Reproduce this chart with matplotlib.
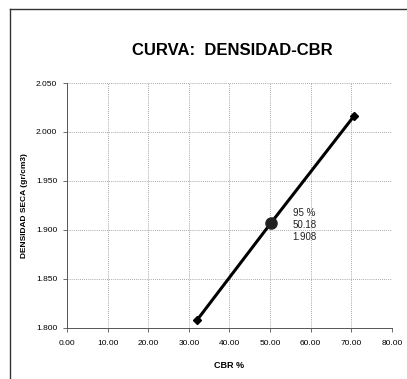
import matplotlib.pyplot as plt
from matplotlib.lines import Line2D

plt.rcParams['font.family'] = ['Liberation Sans', 'DejaVu Sans']

# Curve
cbr = [32.0, 50.18, 70.6]
densidad = [1.808, 1.907, 2.016]

# Marked point (95 %)
punto_cbr = 50.18
punto_dens = 1.907
punto_label = "95 %\n50.18\n1.908"

x_ticks = [0, 10, 20, 30, 40, 50, 60, 70, 80]
y_ticks = [1.80, 1.85, 1.90, 1.95, 2.00, 2.05]

fig = plt.figure(figsize=(4.07, 3.79), dpi=100)
ax = fig.add_axes([0.1646, 0.1346, 0.7985, 0.6464])

ax.plot(cbr, densidad, color='black', lw=2.2, zorder=3)
ax.plot([cbr[0], cbr[-1]], [densidad[0], densidad[-1]], ls='none',
        marker='D', ms=4.5, color='black', zorder=4)
ax.plot(punto_cbr, punto_dens, marker='o', ms=8, color='#222222', zorder=5)
ax.text(punto_cbr + 5.4, punto_dens - 0.002, punto_label, fontsize=7,
        va='center', ha='left', linespacing=1.2, color='#222222')

ax.set_xlim(0, 80)
ax.set_ylim(1.80, 2.05)
ax.set_xticks(x_ticks)
ax.set_xticklabels(["{:.2f}".format(v) for v in x_ticks], fontsize=6)
ax.set_yticks(y_ticks)
ax.set_yticklabels(["{:.3f}".format(v) for v in y_ticks], fontsize=6)
ax.tick_params(length=3, width=0.6, color='#555555')
ax.tick_params(axis='x', pad=6)
ax.tick_params(axis='y', pad=4)

ax.grid(True, color='#8a8a8a', ls=(0, (1, 1.5)), lw=0.6)
ax.spines['top'].set_visible(False)
ax.spines['right'].set_visible(False)
ax.spines['left'].set_color('#555555')
ax.spines['bottom'].set_color('#555555')
ax.spines['left'].set_linewidth(0.7)
ax.spines['bottom'].set_linewidth(0.7)

ax.set_xlabel("CBR %", fontsize=6.5, fontweight='bold', labelpad=10)
ax.set_ylabel("DENSIDAD SECA (gr/cm3)", fontsize=6, fontweight='bold', labelpad=6)
fig.text(0.572, 0.868, "CURVA:  DENSIDAD-CBR", fontsize=12, fontweight='bold',
         ha='center', va='center')

# Frame around the chart (left and top edges visible in the scan)
fig.add_artist(Line2D([0.025, 0.025], [0.0, 0.976], color='#333333', lw=1.0))
fig.add_artist(Line2D([0.025, 1.0], [0.976, 0.976], color='#333333', lw=1.0))

fig.savefig("out.png", dpi=100, facecolor='white')
